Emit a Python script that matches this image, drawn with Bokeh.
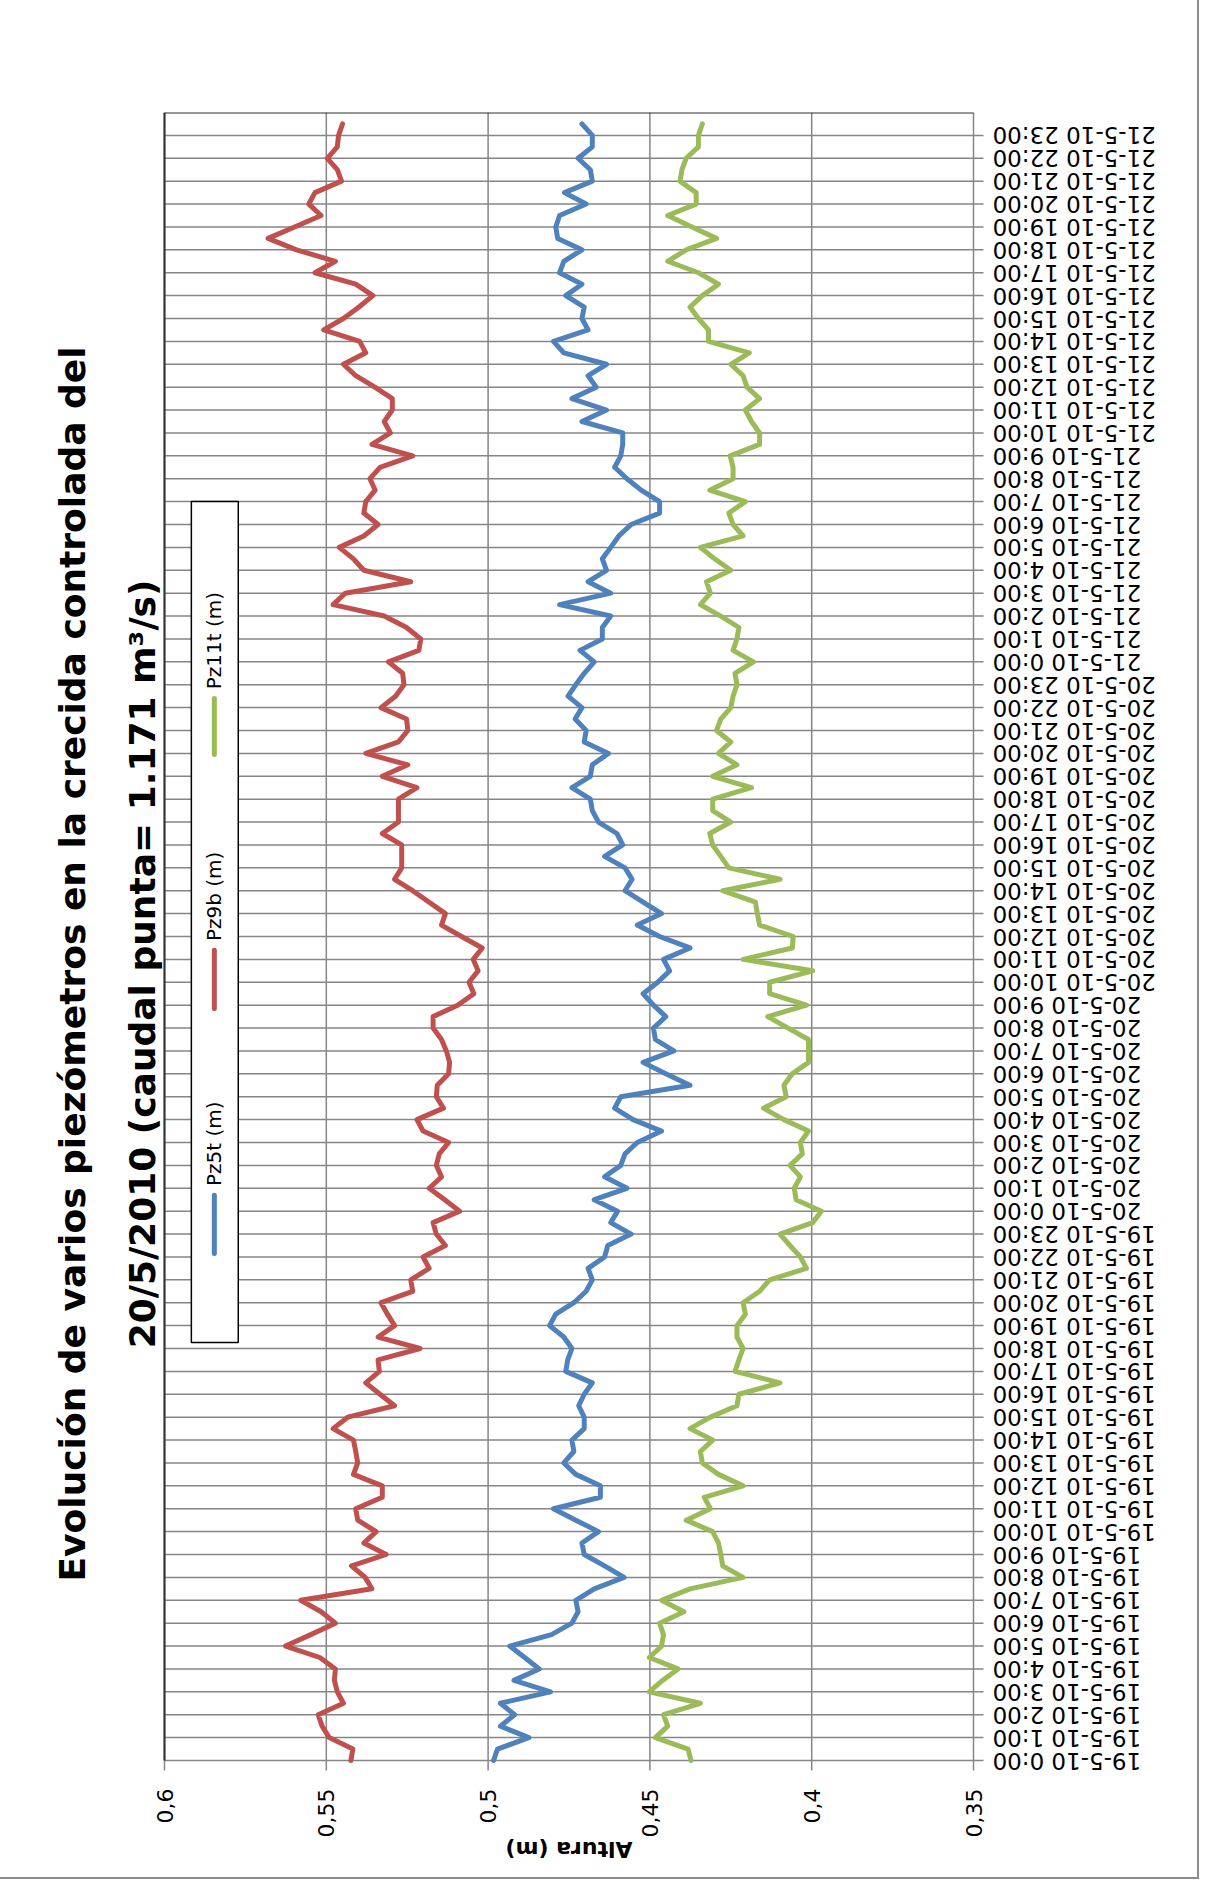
import math
from bokeh.plotting import figure
from bokeh.models import Range1d, FixedTicker, Label, LinearAxis
from bokeh.core.properties import value
from bokeh.embed import file_html
from bokeh.resources import INLINE

# ---------------- data (half-hourly readings, 19-5-10 0:00 .. 21-5-10 23:30) -------------
pz5t = [
    0.4983, 0.4971, 0.4874, 0.4962, 0.4918, 0.4962, 0.4807, 0.4920, 0.4842, 0.4887,
    0.4933, 0.4804, 0.4741, 0.4722, 0.4729, 0.4672, 0.4580, 0.4640, 0.4703, 0.4710,
    0.4659, 0.4729, 0.4798, 0.4653,
    0.4653, 0.4729, 0.4766, 0.4735, 0.4741, 0.4703, 0.4703, 0.4720, 0.4703, 0.4678,
    0.4760, 0.4754, 0.4741, 0.4766, 0.4810, 0.4791, 0.4735, 0.4697, 0.4678, 0.4691,
    0.4640, 0.4630, 0.4558, 0.4621,
    0.4600, 0.4672, 0.4571, 0.4640, 0.4590, 0.4577, 0.4539, 0.4464, 0.4552, 0.4609,
    0.4590, 0.4376, 0.4451, 0.4521, 0.4426, 0.4483, 0.4489, 0.4451, 0.4489, 0.4521,
    0.4476, 0.4439, 0.4458, 0.4376,
    0.4470, 0.4539, 0.4464, 0.4521, 0.4577, 0.4555, 0.4577, 0.4640, 0.4584, 0.4602,
    0.4659, 0.4678, 0.4684, 0.4741, 0.4684, 0.4678, 0.4628, 0.4703, 0.4697, 0.4731,
    0.4710, 0.4753, 0.4729, 0.4703,
    0.4672, 0.4716, 0.4647, 0.4647, 0.4621, 0.4779, 0.4621, 0.4691, 0.4634, 0.4647,
    0.4621, 0.4596, 0.4558, 0.4470, 0.4470, 0.4527, 0.4571, 0.4609, 0.4590, 0.4584,
    0.4584, 0.4710, 0.4634, 0.4741,
    0.4666, 0.4691, 0.4634, 0.4766, 0.4798, 0.4691, 0.4710, 0.4703, 0.4760, 0.4710,
    0.4779, 0.4766, 0.4710, 0.4785, 0.4791, 0.4779, 0.4697, 0.4764, 0.4678, 0.4684,
    0.4722, 0.4678, 0.4678, 0.4710,
]
pz9b = [
    0.5424, 0.5418, 0.5491, 0.5513, 0.5525, 0.5447, 0.5466, 0.5475, 0.5472, 0.5520,
    0.5626, 0.5548, 0.5472, 0.5516, 0.5579, 0.5359, 0.5380, 0.5422, 0.5315, 0.5384,
    0.5346, 0.5403, 0.5409, 0.5327,
    0.5327, 0.5416, 0.5403, 0.5409, 0.5416, 0.5479, 0.5434, 0.5289, 0.5334, 0.5378,
    0.5336, 0.5340, 0.5210, 0.5340, 0.5289, 0.5311, 0.5331, 0.5233, 0.5239, 0.5182,
    0.5201, 0.5132, 0.5160, 0.5170,
    0.5088, 0.5134, 0.5182, 0.5144, 0.5160, 0.5151, 0.5122, 0.5201, 0.5220, 0.5138,
    0.5160, 0.5157, 0.5122, 0.5119, 0.5129, 0.5144, 0.5170, 0.5170, 0.5094, 0.5044,
    0.5059, 0.5031, 0.5046, 0.5018,
    0.5082, 0.5144, 0.5132, 0.5182, 0.5233, 0.5289, 0.5267, 0.5267, 0.5267, 0.5327,
    0.5277, 0.5277, 0.5277, 0.5220, 0.5327, 0.5248, 0.5378, 0.5277, 0.5248, 0.5252,
    0.5331, 0.5286, 0.5260, 0.5264,
    0.5308, 0.5214, 0.5208, 0.5252, 0.5321, 0.5479, 0.5441, 0.5239, 0.5384, 0.5416,
    0.5460, 0.5384, 0.5340, 0.5384, 0.5378, 0.5349, 0.5365, 0.5334, 0.5233, 0.5359,
    0.5302, 0.5321, 0.5296, 0.5296,
    0.5350, 0.5409, 0.5447, 0.5378, 0.5397, 0.5508, 0.5447, 0.5399, 0.5356, 0.5409,
    0.5535, 0.5472, 0.5592, 0.5680, 0.5598, 0.5516, 0.5554, 0.5535, 0.5453, 0.5466,
    0.5497, 0.5466, 0.5462, 0.5450,
]
pz11t = [
    0.4373, 0.4382, 0.4483, 0.4445, 0.4458, 0.4344, 0.4502, 0.4461, 0.4413, 0.4502,
    0.4464, 0.4458, 0.4470, 0.4395, 0.4464, 0.4376, 0.4212, 0.4275, 0.4281, 0.4288,
    0.4306, 0.4388, 0.4313, 0.4332,
    0.4212, 0.4288, 0.4338, 0.4344, 0.4306, 0.4376, 0.4313, 0.4231, 0.4225, 0.4098,
    0.4237, 0.4225, 0.4212, 0.4231, 0.4231, 0.4205, 0.4212, 0.4161, 0.4130, 0.4016,
    0.4035, 0.4067, 0.4098, 0.3997,
    0.3970, 0.4048, 0.4054, 0.4035, 0.4067, 0.4029, 0.4035, 0.4010, 0.4086, 0.4149,
    0.4079, 0.4086, 0.4060, 0.4010, 0.4010, 0.4010, 0.4073, 0.4136, 0.4016, 0.4130,
    0.4130, 0.3997, 0.4212, 0.4060,
    0.4057, 0.4161, 0.4168, 0.4174, 0.4275, 0.4098, 0.4256, 0.4281, 0.4306, 0.4315,
    0.4250, 0.4306, 0.4306, 0.4186, 0.4306, 0.4231, 0.4288, 0.4250, 0.4294, 0.4281,
    0.4250, 0.4243, 0.4231, 0.4237,
    0.4180, 0.4243, 0.4231, 0.4225, 0.4281, 0.4344, 0.4313, 0.4325, 0.4250, 0.4300,
    0.4344, 0.4212, 0.4243, 0.4256, 0.4205, 0.4315, 0.4243, 0.4243, 0.4252, 0.4161,
    0.4161, 0.4186, 0.4205, 0.4161,
    0.4200, 0.4212, 0.4250, 0.4193, 0.4319, 0.4319, 0.4350, 0.4376, 0.4338, 0.4288,
    0.4350, 0.4445, 0.4388, 0.4294, 0.4370, 0.4445, 0.4357, 0.4357, 0.4407, 0.4401,
    0.4388, 0.4350, 0.4350, 0.4338,
]
# time position of each reading, in hours from 19-5-10 0:00
t_hours = [i / 2 for i in range(len(pz5t))]

days = ["19-5-10", "20-5-10", "21-5-10"]
time_ticks = list(range(72))
time_labels = [f"{d} {h}:00" for d in days for h in range(24)]

value_ticks = [0.35, 0.4, 0.45, 0.5, 0.55, 0.6]
value_labels = ["0,35", "0,4", "0,45", "0,5", "0,55", "0,6"]

series_names = ["Pz5t (m)", "Pz9b (m)", "Pz11t (m)"]
series_colors = ["#4F81BD", "#C0504D", "#9BBB59"]

title_lines = ["Evolución de varios piezómetros en la crecida controlada del",
               "20/5/2010 (caudal punta= 1.171 m³/s)"]
y_title = "Altura (m)"

# ---------------- layout constants (pixels) -------------
W = 1197
PLOT_L, PLOT_W = 164, 809          # plot area inside the canvas
PLOT_T, PLOT_H = 112, 1648
BELOW_PAD = 14                     # frame continues a little below the plot area
v_max, v_min = max(value_ticks), min(value_ticks)
ppu = PLOT_W / (v_max - v_min)     # pixels per metre
t_top = 72
ppt = PLOT_H / t_top               # pixels per hour

x_left = v_max + PLOT_L / ppu
x_right = v_max - (W - PLOT_L) / ppu
y_bottom = -BELOW_PAD / ppt

p = figure(frame_width=W, frame_height=PLOT_H + BELOW_PAD,
           x_range=Range1d(x_left, x_right), y_range=Range1d(y_bottom, t_top),
           output_backend="svg", toolbar_location=None,
           min_border_left=0, min_border_right=0,
           min_border_top=PLOT_T, min_border_bottom=0)
p.background_fill_color = "white"
p.border_fill_color = "white"
p.outline_line_color = None
p.yaxis.visible = False
p.ygrid.visible = False
p.xgrid.visible = False
p.styles = {"outline": "2px solid #8c8c8c", "outline-offset": "0px"}

grid_color = "#868686"

xa = p.xaxis[0]
xa.ticker = FixedTicker(ticks=value_ticks)
xa.major_label_overrides = {v: s for v, s in zip(value_ticks, value_labels)}
xa.major_label_orientation = math.pi / 2
xa.major_label_text_font = "DejaVu Sans"
xa.major_label_text_font_size = "22px"
xa.major_label_text_color = "#000000"
xa.major_label_standoff = 14
xa.axis_line_color = None
xa.major_tick_line_color = None
xa.major_tick_out = 0
xa.major_tick_in = 0
xa.minor_tick_line_color = None

# axis title, drawn upside down like the rotated original
v_mid = (v_min + v_max) / 2
title_font_px = 22
anchor = v_mid + 0.5 * 5.78 * title_font_px / ppu   # label anchors on its (rotated) end
ax_title = LinearAxis(ticker=FixedTicker(ticks=[anchor]),
                      major_label_overrides={anchor: y_title},
                      major_label_orientation=math.pi,
                      axis_line_color=None, major_tick_line_color=None,
                      minor_tick_line_color=None, major_tick_out=0, major_tick_in=0,
                      major_label_standoff=9,
                      major_label_text_font="DejaVu Sans",
                      major_label_text_font_style="bold",
                      major_label_text_font_size=f"{title_font_px}px",
                      major_label_text_color="#000000")
p.add_layout(ax_title, "below")

tick_len = 10 / ppu
tick_len_t = 10 / ppt
# vertical (value) grid lines with their outward tick marks
p.segment(x0=value_ticks, x1=value_ticks, y0=[-tick_len_t] * len(value_ticks),
          y1=[t_top] * len(value_ticks), line_color=grid_color, line_width=1.5)
# horizontal (time) grid lines, extending past the right edge as tick marks
p.segment(x0=[v_max] * len(time_ticks), x1=[v_min - tick_len] * len(time_ticks),
          y0=time_ticks, y1=time_ticks, line_color=grid_color, line_width=1.5)
# dark plot-area border on the top and left edges
p.segment(x0=[v_max, v_max], y0=[0, t_top], x1=[v_max, v_min], y1=[t_top, t_top],
          line_color="#303030", line_width=2)

# time tick labels (rotated 180 degrees)
p.text(x=[v_min - 19 / ppu] * len(time_ticks), y=time_ticks, text=time_labels,
       angle=math.pi, text_align="right", text_baseline="middle",
       text_font=value("DejaVu Sans"), text_font_size="23px", text_color="#000000")

# ---------------- series -------------
for vals, col in zip([pz5t, pz9b, pz11t], series_colors):
    p.line(vals, t_hours, line_color=col, line_width=5, line_join="round", line_cap="round")

# ---------------- legend (drawn rotated inside the plot) -------------
p.quad(left=[0.5917], right=[0.5772], bottom=[18.26], top=[55.0],
       fill_color="white", line_color="#000000", line_width=1.5)
leg_x = 0.5846
leg_line_bottom = [22.15, 32.85, 43.95]
leg_line_top = [24.7, 35.4, 46.4]
leg_text_start = [25.1, 35.8, 46.8]
for name, col, b, tp, ts in zip(series_names, series_colors, leg_line_bottom, leg_line_top, leg_text_start):
    p.segment(x0=[leg_x], y0=[b], x1=[leg_x], y1=[tp], line_color=col, line_width=5, line_cap="round")
    p.add_layout(Label(x=leg_x, y=ts, text=name, angle=math.pi / 2,
                       text_align="left", text_baseline="middle",
                       text_font="DejaVu Sans", text_font_size="20px", text_color="#000000"))

# ---------------- chart title (rotated, on the left) -------------
title_px = [80, 150]   # centre of each title line, from the page's left edge
p.text(x=[v_max + (PLOT_L + 8 - px) / ppu for px in title_px], y=[34.8] * 2,
       text=title_lines, angle=math.pi / 2, text_align="center", text_baseline="middle",
       text_font=value("DejaVu Sans"), text_font_style="bold", text_font_size="36px",
       text_color="#000000")

open("out.html", "w").write(file_html(p, INLINE))
